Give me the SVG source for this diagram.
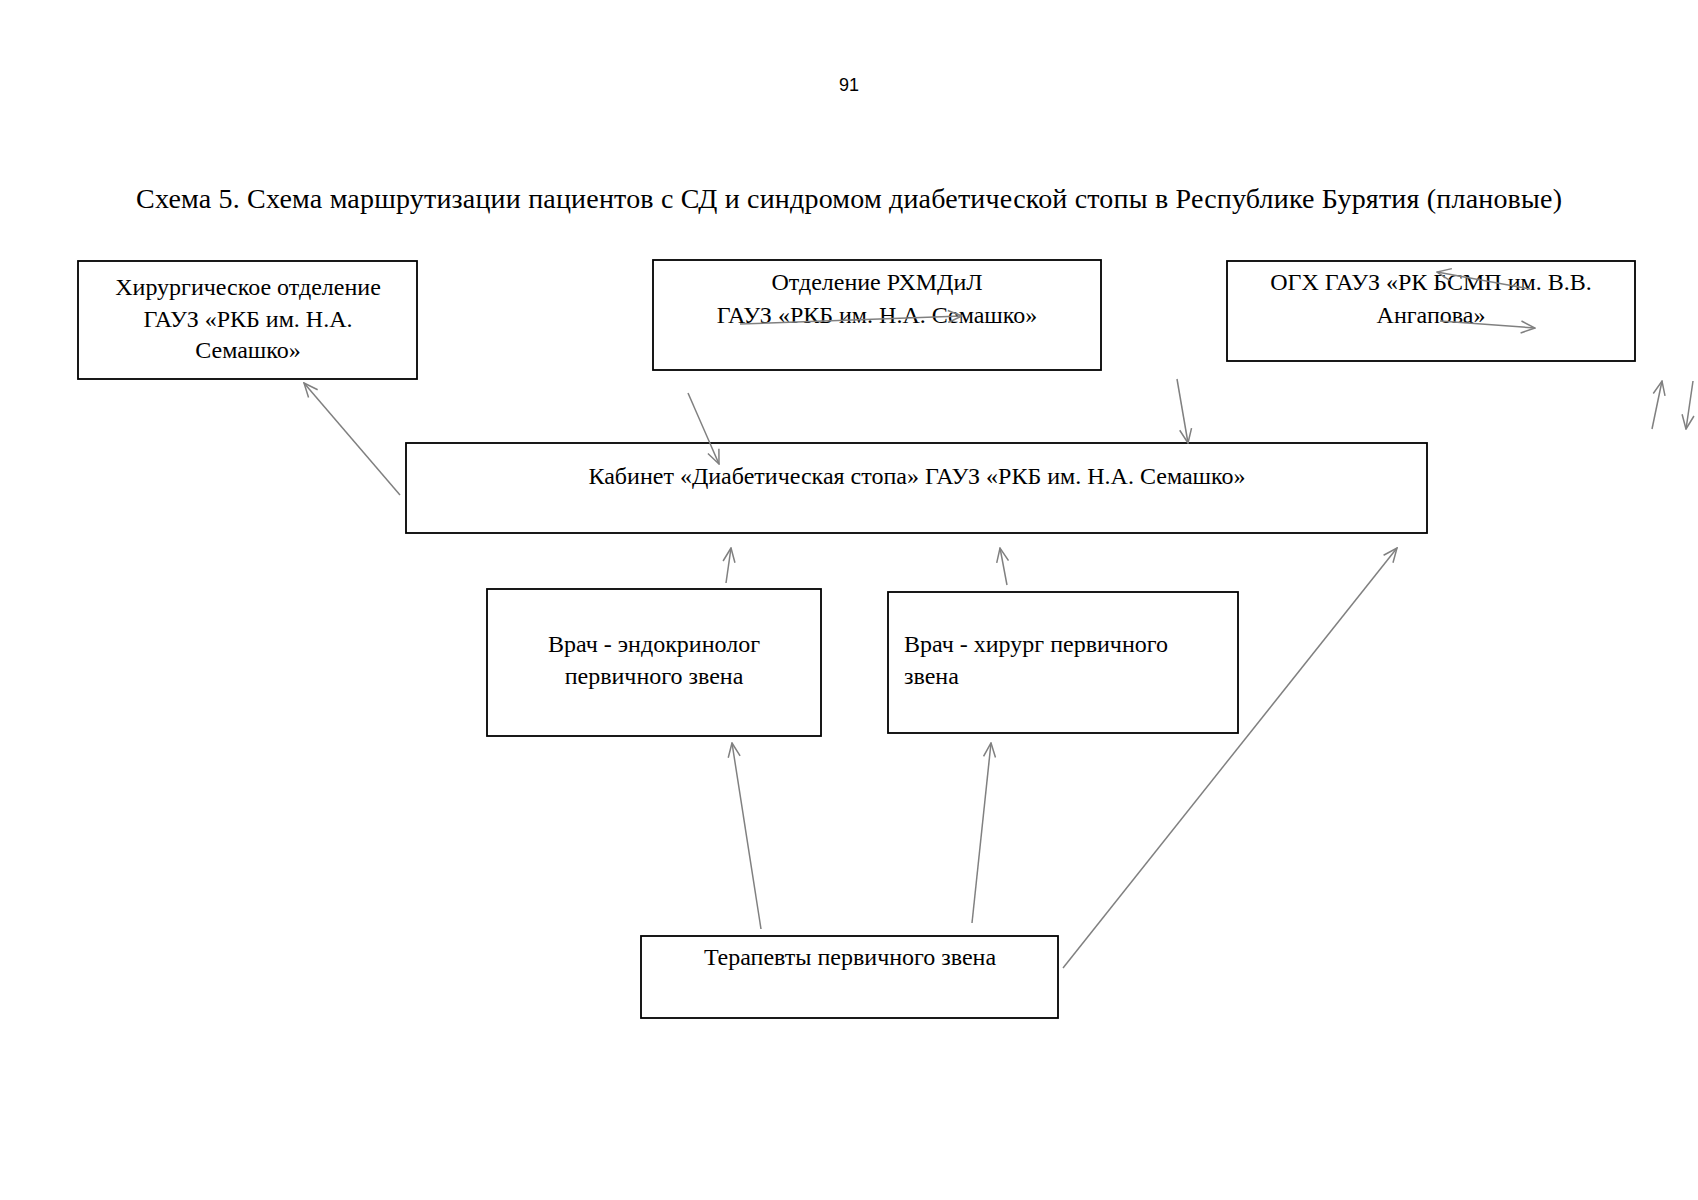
<svg xmlns="http://www.w3.org/2000/svg" width="1698" height="1200" viewBox="0 0 1698 1200">
<style>
.box{fill:#fff;stroke:#000;stroke-width:1.8}
.t{font-family:"Liberation Serif","Times New Roman",serif;font-size:24px;fill:#000}
.c{text-anchor:middle}
.ln{stroke:#808080;stroke-width:1.5;fill:none;marker-end:url(#ah)}
</style>
<defs>
<marker id="ah" markerUnits="userSpaceOnUse" markerWidth="16" markerHeight="14" viewBox="0 0 16 14" refX="15" refY="7" orient="auto">
<path d="M1,1 L15,7 L1,13" fill="none" stroke="#808080" stroke-width="1.5"/>
</marker>
</defs>
<rect width="1698" height="1200" fill="#fff"/>
<text x="849" y="91" text-anchor="middle" font-family="Liberation Sans, Arial, sans-serif" font-size="18">91</text>
<text x="849" y="208" text-anchor="middle" font-family="Liberation Serif, Times New Roman, serif" font-size="28" textLength="1426" lengthAdjust="spacing">Схема 5. Схема маршрутизации пациентов с СД и синдромом диабетической стопы в Республике Бурятия (плановые)</text>

<g id="node-surgery">
<rect class="box" x="78" y="261" width="339" height="118"/>
<text class="t c" x="248" y="295">Хирургическое отделение</text>
<text class="t c" x="248" y="327">ГАУЗ «РКБ им. Н.А.</text>
<text class="t c" x="248" y="358">Семашко»</text>
</g>
<g id="node-rhmdil">
<rect class="box" x="653" y="260" width="448" height="110"/>
<text class="t c" x="877" y="290">Отделение РХМДиЛ</text>
<text class="t c" x="877" y="323">ГАУЗ «РКБ им. Н.А. Семашко»</text>
</g>
<g id="node-ogh">
<rect class="box" x="1227" y="261" width="408" height="100"/>
<text class="t c" x="1431" y="290">ОГХ ГАУЗ «РК БСМП им. В.В.</text>
<text class="t c" x="1431" y="323">Ангапова»</text>
</g>
<g id="node-cabinet">
<rect class="box" x="406" y="443" width="1021" height="90"/>
<text class="t c" x="917" y="484">Кабинет «Диабетическая стопа» ГАУЗ «РКБ им. Н.А. Семашко»</text>
</g>
<g id="node-endo">
<rect class="box" x="487" y="589" width="334" height="147"/>
<text class="t c" x="654" y="652">Врач - эндокринолог</text>
<text class="t c" x="654" y="684">первичного звена</text>
</g>
<g id="node-surgeon">
<rect class="box" x="888" y="592" width="350" height="141"/>
<text class="t" x="904" y="652">Врач - хирург первичного</text>
<text class="t" x="904" y="684">звена</text>
</g>
<g id="node-therapists">
<rect class="box" x="641" y="936" width="417" height="82"/>
<text class="t c" x="850" y="965">Терапевты первичного звена</text>
</g>

<g id="connectors">
<line class="ln" x1="400" y1="495" x2="304" y2="383"/>
<line class="ln" x1="688" y1="393" x2="719" y2="464"/>
<line class="ln" x1="1177" y1="379" x2="1188" y2="443"/>
<line class="ln" x1="726" y1="583" x2="731" y2="548"/>
<line class="ln" x1="1007" y1="585" x2="1000" y2="548"/>
<line class="ln" x1="761" y1="929" x2="732" y2="743"/>
<line class="ln" x1="972" y1="923" x2="991" y2="743"/>
<line class="ln" x1="1063" y1="968" x2="1397" y2="548"/>
<line class="ln" x1="1530" y1="289" x2="1437" y2="272"/>
<line class="ln" x1="1440" y1="321" x2="1535" y2="328"/>
<line class="ln" x1="740" y1="324" x2="962" y2="316"/>
<line class="ln" x1="1652" y1="429" x2="1662" y2="381"/>
<line class="ln" x1="1693" y1="381" x2="1686" y2="429"/>
</g>
</svg>
